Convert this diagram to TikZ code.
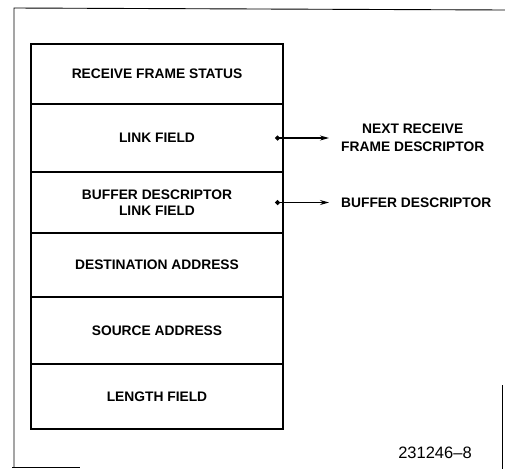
\documentclass[tikz,border=0pt]{standalone}
\usepackage{fontspec}
\setmainfont{Liberation Sans}
\usetikzlibrary{positioning,arrows.meta}

\begin{document}
\begin{tikzpicture}[
  x=1pt, y=-1pt,
  %  Styles des cases du descripteur
  champ/.style={rectangle, draw=black, line width=1.8pt, minimum width=252pt, outer sep=0pt, inner sep=2pt, align=center, font=\bfseries\fontsize{13.8}{15.5}\selectfont},
  cible/.style={inner sep=0pt, align=center, font=\bfseries\fontsize{13.8}{18}\selectfont},
  pointeur/.style={{Circle[length=5pt]}-{Stealth[length=9pt,width=5pt]}, line width=1.2pt, shorten >=12pt},
  cadre/.style={draw=black, line width=0.9pt}
]
\useasboundingbox (0,0) rectangle (505,469);

%  Cadre de la figure
\draw[cadre] (14,467) -- (14,8) -- (505,10);
\draw[cadre] (12,467) -- (80,467);
\draw[cadre] (502,385) -- (502,469);

%  Les champs
\node[champ, minimum height=60pt, anchor=north west] (rfs) at (31,44) {RECEIVE FRAME STATUS};
\node[champ, minimum height=68pt, below=0pt of rfs] (link) {LINK FIELD};
\node[champ, minimum height=61pt, below=0pt of link] (bdlink) {BUFFER DESCRIPTOR\\LINK FIELD};
\node[champ, minimum height=64pt, below=0pt of bdlink] (dest) {DESTINATION ADDRESS};
\node[champ, minimum height=67pt, below=0pt of dest] (src) {SOURCE ADDRESS};
\node[champ, minimum height=65pt, below=0pt of src] (len) {LENGTH FIELD};

%  Pointeurs
\node[cible, right=58pt of link] (next) {NEXT RECEIVE\\FRAME DESCRIPTOR};
\node[cible, right=58pt of bdlink] (bd) {BUFFER DESCRIPTOR};
\draw[pointeur] ([xshift=-8pt]link.east) -- (next.west);
\draw[pointeur] ([xshift=-8pt]bdlink.east) -- (bd.west);

\node[font=\fontsize{16.5}{18}\selectfont] (num) at (435,453) {231246--8};
\end{tikzpicture}
\end{document}
